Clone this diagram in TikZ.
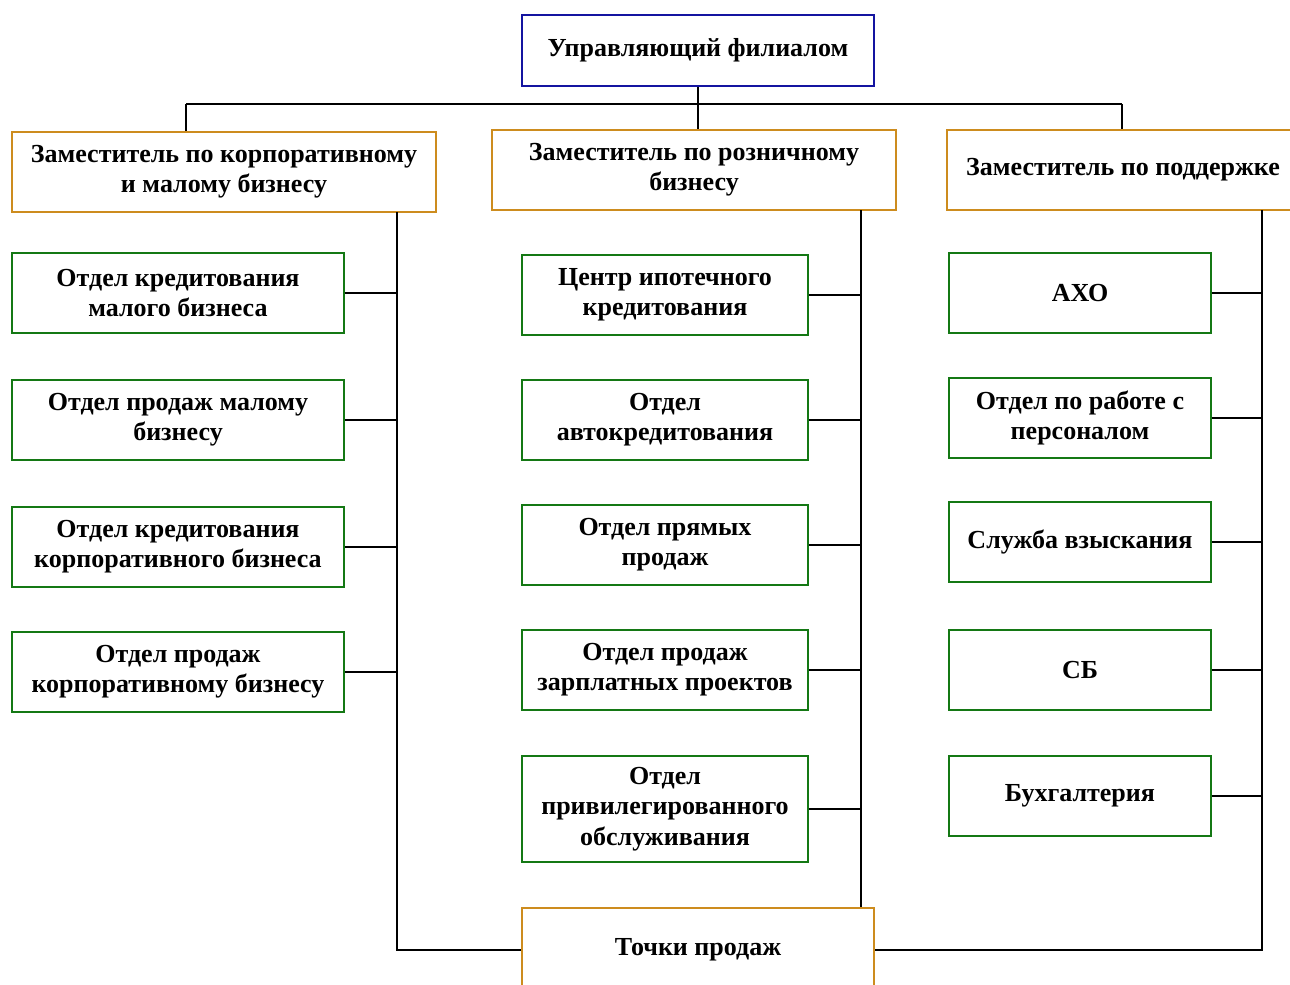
\documentclass[tikz,border=0pt]{standalone}
\usepackage{fontspec}
\setmainfont{Liberation Serif}
\usepackage{xcolor}
\usetikzlibrary{positioning}
\definecolor{headblue}{RGB}{20,20,160}
\definecolor{depor}{RGB}{205,140,30}
\definecolor{unitgr}{RGB}{20,120,20}

\begin{document}
\begin{tikzpicture}[every node/.style={font=\bfseries\fontsize{14.8}{17.2}\selectfont,align=center},
  box/.style={draw,line width=1.1pt,fill=white,inner sep=2pt},
  hd/.style={box,draw=headblue,minimum width=7.04cm,minimum height=1.42cm},
  dp/.style={box,draw=depor,minimum height=1.6cm},
  lu/.style={box,draw=unitgr,minimum width=6.64cm,minimum height=1.6cm},
  mu/.style={box,draw=unitgr,minimum width=5.72cm,minimum height=1.6cm},
  ru/.style={box,draw=unitgr,minimum width=5.24cm,minimum height=1.6cm},
  ln/.style={line width=1.1pt}]
  \clip (0,0) rectangle (25.8,-19.68);
  \fill[white] (0,0) rectangle (25.8,-19.68);

  % head and deputies
  \node[hd] (head) at (13.96,-1.01) {Управляющий филиалом};
  \node[dp,minimum width=8.48cm] (dl) at (4.48,-3.44) {Заместитель по корпоративному\\и малому бизнесу};
  \node[dp,minimum width=8.08cm] (dm) at (13.88,-3.4) {Заместитель по розничному\\бизнесу};
  \node[dp,minimum width=7.04cm] (dr) at (22.46,-3.4) {Заместитель по поддержке};

  % left column
  \node[lu] (l1) at (3.56,-5.86) {Отдел кредитования\\малого бизнеса};
  \node[lu] (l2) at (3.56,-8.4) {Отдел продаж малому\\бизнесу};
  \node[lu] (l3) at (3.56,-10.94) {Отдел кредитования\\корпоративного бизнеса};
  \node[lu] (l4) at (3.56,-13.44) {Отдел продаж\\корпоративному бизнесу};

  % middle column
  \node[mu] (m1) at (13.3,-5.9) {Центр ипотечного\\кредитования};
  \node[mu] (m2) at (13.3,-8.4) {Отдел\\автокредитования};
  \node[mu] (m3) at (13.3,-10.9) {Отдел прямых\\продаж};
  \node[mu] (m4) at (13.3,-13.4) {Отдел продаж\\зарплатных проектов};
  \node[mu,minimum height=2.12cm] (m5) at (13.3,-16.18) {Отдел\\привилегированного\\обслуживания};

  % right column
  \node[ru] (r1) at (21.6,-5.86) {АХО};
  \node[ru] (r2) at (21.6,-8.36) {Отдел по работе с\\персоналом};
  \node[ru] (r3) at (21.6,-10.84) {Служба взыскания};
  \node[ru] (r4) at (21.6,-13.4) {СБ};
  \node[ru] (r5) at (21.6,-15.92) {Бухгалтерия};

  \node[dp,minimum width=7.04cm,minimum height=1.68cm] (pts) at (13.96,-19.0) {Точки продаж};

  % bus
  \coordinate (bl) at (3.72,-2.08);
  \coordinate (br) at (22.44,-2.08);
  \draw[ln] (head.south) -- (head.south |- dm.north);
  \draw[ln] (bl) -- (br);
  \draw[ln] (bl) -- (bl |- dl.north);
  \draw[ln] (br) -- (br |- dr.north);

  % spines
  \coordinate (sl) at (7.94,-4.24);
  \coordinate (sm) at (17.22,-4.2);
  \coordinate (sr) at (25.24,-4.2);
  \draw[ln] (sl) -- (sl |- pts.west) -- (pts.west);
  \draw[ln] (sm) -- (sm |- pts.north);
  \draw[ln] (sr) -- (sr |- pts.east) -- (pts.east);
  \foreach \n in {l1,l2,l3,l4} \draw[ln] (\n.east) -- (\n.east -| sl);
  \foreach \n in {m1,m2,m3,m4,m5} \draw[ln] (\n.east) -- (\n.east -| sm);
  \foreach \n in {r1,r2,r3,r4,r5} \draw[ln] (\n.east) -- (\n.east -| sr);
\end{tikzpicture}
\end{document}
